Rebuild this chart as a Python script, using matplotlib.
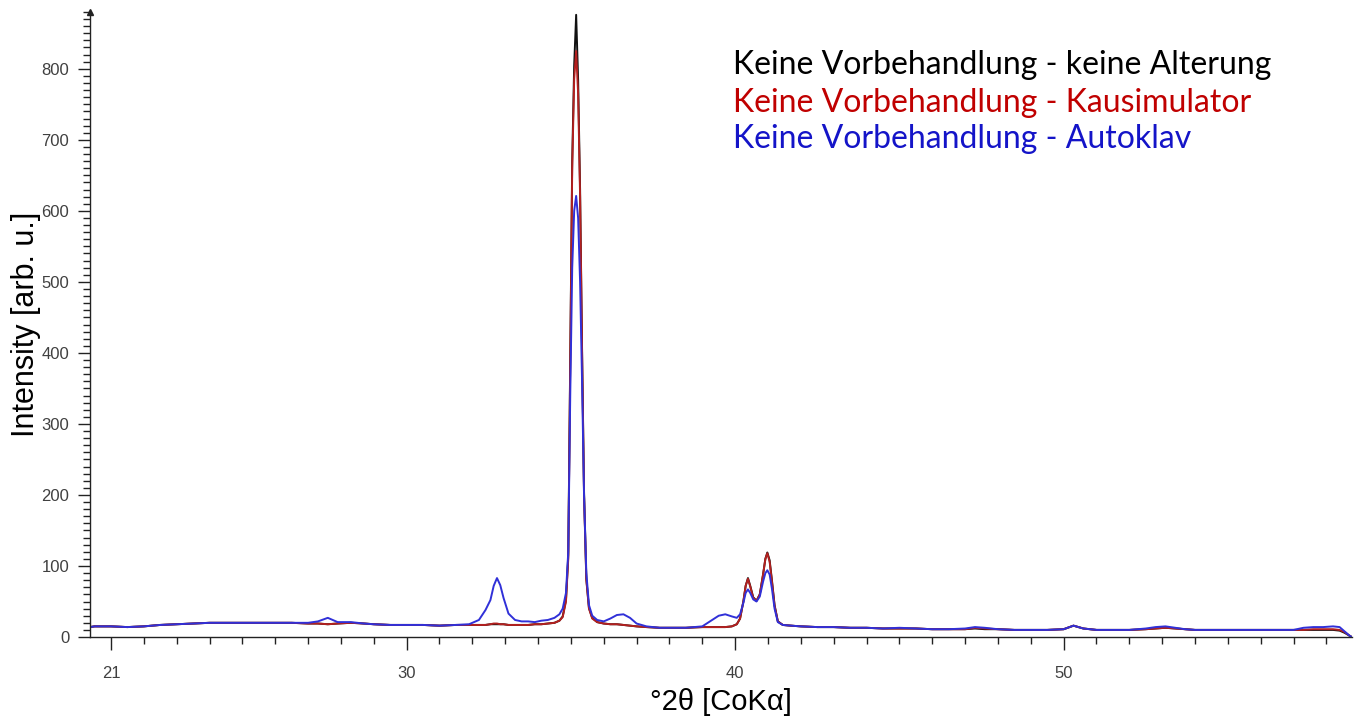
import numpy as np
import matplotlib.pyplot as plt
from matplotlib.ticker import MultipleLocator, FixedLocator

# 2theta positions (Co K-alpha) and intensities of the three samples
two_theta = [
    20.36, 20.5, 21.0, 21.5, 22.0, 22.5, 23.0, 23.5, 24.0, 24.5,
    25.0, 25.5, 26.0, 26.5, 27.0, 27.3, 27.6, 27.9, 28.3, 28.7,
    29.0, 29.5, 30.0, 30.5, 31.0, 31.5, 31.9, 32.2, 32.4, 32.55,
    32.65, 32.75, 32.85, 32.95, 33.1, 33.3, 33.5, 33.7, 33.9, 34.1,
    34.3, 34.5, 34.65, 34.75, 34.85, 34.92, 34.98, 35.04, 35.1, 35.16,
    35.22, 35.28, 35.34, 35.4, 35.47, 35.55, 35.65, 35.8, 36.0, 36.2,
    36.4, 36.6, 36.8, 37.0, 37.3, 37.7, 38.0, 38.5, 39.0, 39.3,
    39.5, 39.7, 39.9, 40.05, 40.15, 40.25, 40.32, 40.39, 40.46, 40.55,
    40.65, 40.75, 40.85, 40.92, 40.98, 41.05, 41.12, 41.2, 41.3, 41.45,
    41.7, 42.0, 42.5, 43.0, 43.5, 44.0, 44.5, 45.0, 45.5, 46.0,
    46.5, 47.0, 47.3, 47.6, 48.0, 48.5, 49.0, 49.5, 50.0, 50.3,
    50.6, 51.0, 51.5, 52.0, 52.5, 52.8, 53.1, 53.4, 53.7, 54.0,
    54.5, 55.0, 55.5, 56.0, 56.5, 57.0, 57.3, 57.6, 57.9, 58.2,
    58.4, 58.55, 58.7, 58.77,
]

# keine Vorbehandlung - keine Alterung
int_ref = [
    14, 15, 15, 14, 15, 17, 18, 19, 20, 20,
    20, 20, 20, 20, 19, 19, 18, 19, 20, 19,
    18, 17, 17, 17, 16, 17, 17, 17, 17, 18,
    18, 18, 18, 18, 17, 17, 17, 17, 18, 18,
    19, 20, 23, 29, 52, 115, 390, 670, 805, 876,
    785, 630, 405, 205, 82, 41, 27, 21, 19, 18,
    18, 17, 16, 15, 14, 13, 13, 13, 14, 14,
    14, 14, 15, 18, 26, 50, 72, 83, 72, 56,
    51, 60, 88, 110, 119, 108, 80, 45, 22, 17,
    16, 15, 14, 14, 13, 13, 12, 12, 12, 11,
    11, 11, 12, 11, 11, 10, 10, 10, 11, 16,
    12, 10, 10, 10, 11, 12, 13, 12, 11, 10,
    10, 10, 10, 10, 10, 10, 10, 10, 10, 10,
    9, 6, 2, 0,
]

# keine Vorbehandlung - Kausimulator
int_kau = [
    14, 15, 15, 14, 15, 17, 18, 19, 20, 20,
    20, 20, 20, 20, 19, 19, 18, 19, 20, 19,
    18, 17, 17, 17, 16, 17, 17, 17, 17, 18,
    19, 19, 18, 18, 17, 17, 17, 17, 18, 18,
    19, 20, 23, 28, 50, 110, 380, 660, 785, 825,
    765, 620, 400, 200, 80, 40, 26, 21, 19, 18,
    18, 17, 16, 15, 14, 13, 13, 13, 14, 14,
    14, 14, 15, 18, 26, 50, 72, 82, 71, 55,
    51, 60, 88, 110, 118, 106, 78, 44, 22, 17,
    16, 15, 14, 14, 13, 13, 12, 12, 12, 11,
    11, 11, 13, 12, 11, 10, 10, 10, 11, 16,
    12, 10, 10, 10, 11, 12, 13, 12, 11, 10,
    10, 10, 10, 10, 10, 10, 10, 11, 11, 11,
    10, 7, 2, 0,
]

# keine Vorbehandlung - Autoklav
int_auto = [
    14, 15, 15, 14, 15, 17, 18, 19, 20, 20,
    20, 20, 20, 20, 20, 22, 27, 21, 21, 19,
    18, 17, 17, 17, 16, 17, 18, 24, 38, 52,
    72, 83, 73, 55, 33, 24, 22, 22, 21, 23,
    24, 27, 32, 40, 62, 120, 340, 520, 600, 621,
    590, 500, 360, 200, 90, 45, 30, 24, 22, 26,
    31, 32, 27, 19, 15, 13, 13, 13, 15, 24,
    30, 32, 29, 27, 32, 48, 62, 67, 62, 53,
    50, 57, 78, 90, 94, 88, 68, 40, 21, 17,
    16, 15, 14, 14, 13, 13, 12, 13, 12, 11,
    11, 12, 14, 13, 11, 10, 10, 10, 11, 16,
    12, 10, 10, 10, 12, 14, 15, 13, 11, 10,
    10, 10, 10, 10, 10, 10, 13, 14, 14, 15,
    14, 8, 2, 0,
]

labels = ['Keine Vorbehandlung - keine Alterung',
          'Keine Vorbehandlung - Kausimulator',
          'Keine Vorbehandlung - Autoklav']
line_colors = ['#111111', '#b3201f', '#3030d8']
text_colors = ['#000000', '#c00000', '#1414c8']

fig = plt.figure(figsize=(13.59, 7.22), dpi=100)
ax = fig.add_axes([0.0662, 0.1177, 0.9287, 0.8657])

for series, col in zip([int_ref, int_kau, int_auto], line_colors):
    ax.plot(two_theta, series, color=col, lw=1.4)

ax.set_xlim(20.36, 58.78)
ax.set_ylim(0, 880)

for side in ['top', 'right']:
    ax.spines[side].set_visible(False)
for side in ['left', 'bottom']:
    ax.spines[side].set_color('#222222')
    ax.spines[side].set_linewidth(1.0)

# little arrow head at the top of the intensity axis
ax.plot(0, 1, marker='^', color='#222222', ms=4, transform=ax.transAxes,
        clip_on=False)

ax.xaxis.set_major_locator(FixedLocator([21, 30, 40, 50]))
ax.xaxis.set_minor_locator(MultipleLocator(1))
ax.yaxis.set_major_locator(MultipleLocator(100))
ax.yaxis.set_minor_locator(MultipleLocator(10))

ax.tick_params(axis='x', which='major', length=9, width=1, pad=12,
               color='#222222', labelcolor='#404040', labelsize=12)
ax.tick_params(axis='x', which='minor', length=5, width=1, color='#222222')
ax.tick_params(axis='y', which='major', length=9, width=1, pad=6,
               color='#222222', labelcolor='#404040', labelsize=12)
ax.tick_params(axis='y', which='minor', length=5, width=1, color='#222222')
for lab in ax.get_xticklabels() + ax.get_yticklabels():
    lab.set_fontfamily('Liberation Sans')

ax.set_xlabel('°2θ [CoKα]', fontsize=21, family='Liberation Sans', labelpad=5)
ax.set_ylabel('Intensity [arb. u.]', fontsize=22, family='Liberation Sans',
              labelpad=0)

# coloured sample names instead of a legend box
y_base = [74, 112, 148]
for lab, col, yb in zip(labels, text_colors, y_base):
    fig.text(733 / 1359, 1 - yb / 722, lab, color=col, fontsize=23,
             family='Lato', va='baseline', ha='left')

fig.savefig('out.png', dpi=100)
